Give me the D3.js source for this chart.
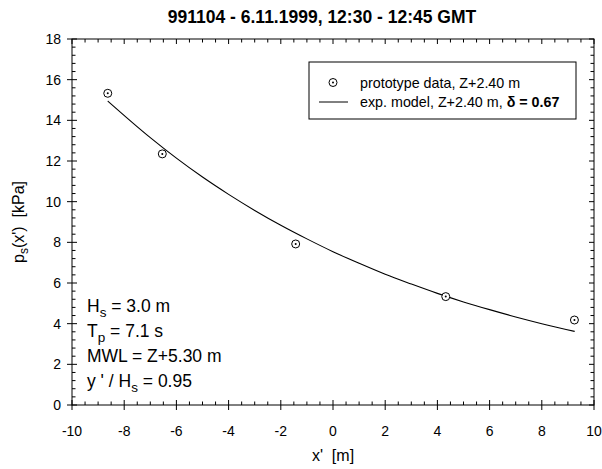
<!DOCTYPE html>
<html>
<head>
<meta charset="utf-8">
<script src="https://cdn.jsdelivr.net/npm/d3@7/dist/d3.min.js"></script>
<style>
html,body{margin:0;padding:0;background:#fff;}
svg{display:block;font-family:"Liberation Sans",Arial,sans-serif;}
</style>
</head>
<body>
<svg id="chart" width="602" height="469"></svg>
<script>
// ---- data ----
const titleText = "991104 - 6.11.1999, 12:30 - 12:45 GMT";
const dataX = [-8.63, -6.54, -1.43, 4.32, 9.25];
const dataP = [15.33, 12.35, 7.92, 5.33, 4.18];
const modelX = [-8.63, -7, -6, -5, -4, -3, -2, -1, 0, 1, 2, 3, 4, 5, 6, 7, 8, 9.26];
const modelP = [14.95, 13.15, 12.14, 11.21, 10.36, 9.57, 8.84, 8.17, 7.54, 6.97, 6.43, 5.95, 5.49, 5.07, 4.69, 4.33, 4.00, 3.62];
const xTicks = [-10, -8, -6, -4, -2, 0, 2, 4, 6, 8, 10];
const yTicks = [0, 2, 4, 6, 8, 10, 12, 14, 16, 18];
const legendLabels = ["prototype data, Z+2.40 m", "exp. model, Z+2.40 m, "];
const deltaText = "\u03B4 = 0.67";

// ---- layout ----
const svg = d3.select("#chart");
const L = 72, R = 594, T = 39, B = 405;
const x = d3.scaleLinear().domain([-10, 10]).range([L, R]);
const y = d3.scaleLinear().domain([0, 18]).range([B, T]);

const xMinor = d3.range(-10, 10.001, 0.5).filter(v => Math.abs(v / 2 - Math.round(v / 2)) > 1e-6);
const yMinor = d3.range(0, 18.001, 0.4).filter(v => Math.abs(v / 2 - Math.round(v / 2)) > 1e-6);

const g = svg.append("g").attr("stroke", "#000").attr("stroke-width", 1).attr("fill", "none");
// frame
g.append("rect").attr("x", L).attr("y", T).attr("width", R - L).attr("height", B - T);

// bottom & top ticks
xTicks.forEach(v => {
  g.append("line").attr("x1", x(v)).attr("x2", x(v)).attr("y1", B - 5).attr("y2", B + 5);
  g.append("line").attr("x1", x(v)).attr("x2", x(v)).attr("y1", T).attr("y2", T + 5);
});
xMinor.forEach(v => {
  g.append("line").attr("x1", x(v)).attr("x2", x(v)).attr("y1", B - 3.5).attr("y2", B);
  g.append("line").attr("x1", x(v)).attr("x2", x(v)).attr("y1", T).attr("y2", T + 3.5);
});
// left & right ticks
yTicks.forEach(v => {
  g.append("line").attr("y1", y(v)).attr("y2", y(v)).attr("x1", L - 5).attr("x2", L + 5);
  g.append("line").attr("y1", y(v)).attr("y2", y(v)).attr("x1", R - 5).attr("x2", R);
});
yMinor.forEach(v => {
  g.append("line").attr("y1", y(v)).attr("y2", y(v)).attr("x1", L).attr("x2", L + 3.5);
  g.append("line").attr("y1", y(v)).attr("y2", y(v)).attr("x1", R - 3.5).attr("x2", R);
});

// tick labels
svg.append("g").selectAll("text").data(xTicks).join("text")
  .attr("x", d => x(d)).attr("y", 436).attr("text-anchor", "middle")
  .attr("font-size", 14).attr("fill", "#000").text(d => d);
svg.append("g").selectAll("text").data(yTicks).join("text")
  .attr("x", 61).attr("y", d => y(d)).attr("dy", "0.35em").attr("text-anchor", "end")
  .attr("font-size", 14).attr("fill", "#000").text(d => d);

// title
svg.append("text").attr("x", 322).attr("y", 23).attr("text-anchor", "middle")
  .attr("font-size", 17.5).attr("font-weight", "bold").text(titleText);

// axis labels
svg.append("text").attr("x", 333).attr("y", 461).attr("text-anchor", "middle")
  .attr("font-size", 16).attr("xml:space", "preserve").text("x'  [m]");
const yl = svg.append("text").attr("transform", "translate(24,222) rotate(-90)")
  .attr("text-anchor", "middle").attr("font-size", 16).attr("xml:space", "preserve");
yl.append("tspan").text("p");
yl.append("tspan").attr("font-size", 12).attr("dy", 4).text("s");
yl.append("tspan").attr("dy", -4).text("(x')  [kPa]");

// model curve
const modelPts = modelX.map((v, i) => [v, modelP[i]]);
svg.append("path").datum(modelPts)
  .attr("fill", "none").attr("stroke", "#000").attr("stroke-width", 1.1)
  .attr("d", d3.line().x(d => x(d[0])).y(d => y(d[1])).curve(d3.curveMonotoneX));

// data points
const pts = svg.append("g");
dataX.forEach((v, i) => {
  pts.append("circle").attr("cx", x(v)).attr("cy", y(dataP[i])).attr("r", 4)
    .attr("fill", "#fff").attr("stroke", "#000").attr("stroke-width", 1);
  pts.append("circle").attr("cx", x(v)).attr("cy", y(dataP[i])).attr("r", 1).attr("fill", "#000");
});

// legend
const lg = svg.append("g");
lg.append("rect").attr("x", 309).attr("y", 62).attr("width", 267).attr("height", 57)
  .attr("fill", "#fff").attr("stroke", "#000").attr("stroke-width", 1);
lg.append("circle").attr("cx", 333).attr("cy", 82.5).attr("r", 4).attr("fill", "none").attr("stroke", "#000");
lg.append("circle").attr("cx", 333).attr("cy", 82.5).attr("r", 1).attr("fill", "#000");
lg.append("line").attr("x1", 319).attr("x2", 348).attr("y1", 102).attr("y2", 102).attr("stroke", "#000");
lg.append("text").attr("x", 360).attr("y", 82.5).attr("dy", "0.35em").attr("font-size", 14.3).text(legendLabels[0]);
const t2 = lg.append("text").attr("x", 360).attr("y", 102).attr("dy", "0.35em").attr("font-size", 14.3);
t2.append("tspan").text(legendLabels[1]);
t2.append("tspan").attr("font-weight", "bold").text(deltaText);

// annotations
const ann = svg.append("g").attr("font-size", 17.5).attr("fill", "#000");
function annot(yPos, parts) {
  const t = ann.append("text").attr("x", 87).attr("y", yPos);
  parts.forEach(p => {
    const s = t.append("tspan").text(p[0]);
    if (p[1] === "sub") s.attr("font-size", 13.5).attr("dy", 5);
    if (p[1] === "up") s.attr("dy", -5);
  });
}
annot(312, [["H"], ["s", "sub"], [" = 3.0 m", "up"]]);
annot(337, [["T"], ["p", "sub"], [" = 7.1 s", "up"]]);
annot(362, [["MWL = Z+5.30 m"]]);
annot(387, [["y ' / H"], ["s", "sub"], [" = 0.95", "up"]]);
</script>
</body>
</html>
